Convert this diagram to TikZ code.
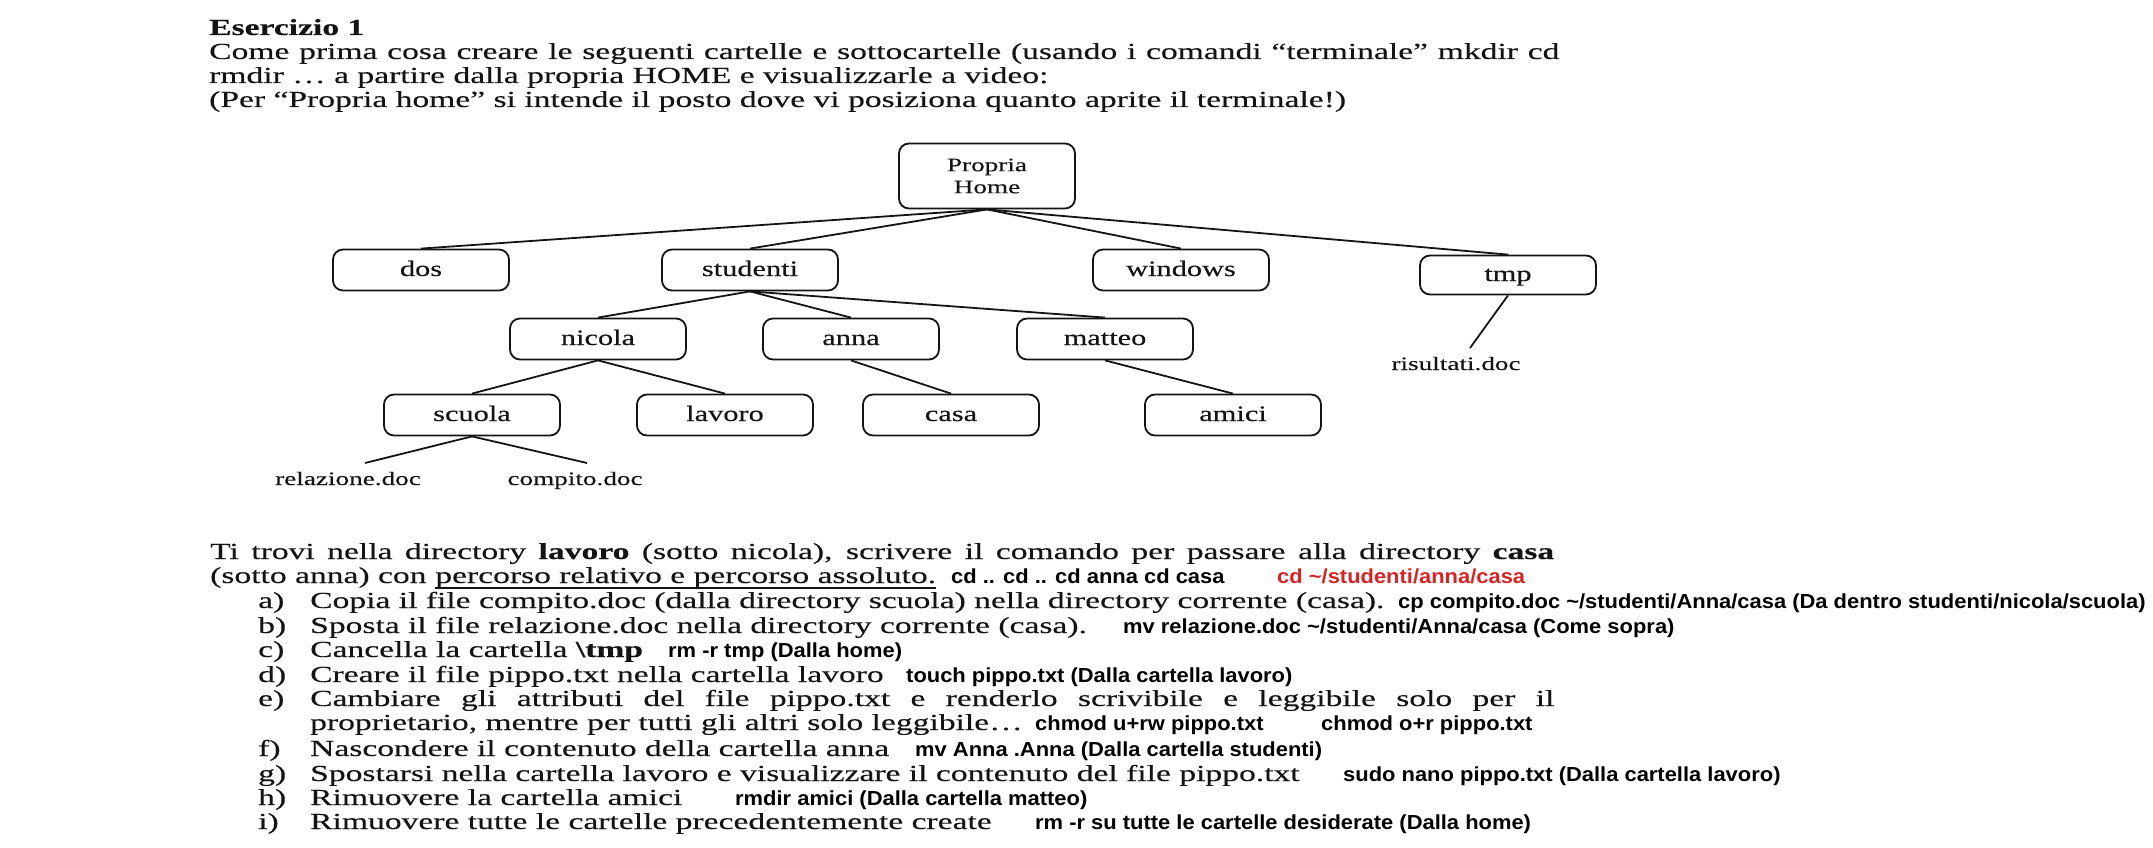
\documentclass[tikz,border=0pt]{standalone}
\usepackage{fontspec}
\setmainfont{Liberation Serif}
% widened faces: body text, tree labels, bold answers
\newfontfamily\bodyfont[FakeStretch=1.46,FakeBold=0.3]{Liberation Serif}
\newfontfamily\treefont[FakeStretch=1.38,FakeBold=0.3]{Liberation Serif}
\newfontfamily\filefont[FakeStretch=1.43,FakeBold=0.3]{Liberation Serif}
\newfontfamily\ansfont[FakeStretch=1.08]{Liberation Sans}
\definecolor{ink}{RGB}{20,20,20}
\definecolor{ansred}{RGB}{214,36,36}

\begin{document}
\begin{tikzpicture}[x=1pt,y=-1pt,
  txt/.style={anchor=base west, inner sep=0pt, text=ink,
    font=\bodyfont\fontsize{23}{26}\selectfont},
  ans/.style={anchor=base west, inner sep=0pt, text=black,
    font=\ansfont\bfseries\fontsize{20.3}{23}\selectfont},
  box/.style={draw=ink, line width=1.8pt, rounded corners=10pt, inner sep=0pt,
    text=ink, minimum width=176pt, font=\treefont\fontsize{22}{24}\selectfont},
  folder/.style={box, minimum height=41pt, text height=15pt, text depth=3pt},
  fname/.style={anchor=base, inner sep=0pt, text=ink,
    font=\filefont\fontsize{19}{22}\selectfont},
  link/.style={draw=ink, line width=1.8pt},
]
\path[use as bounding box] (0,0) rectangle (2153,848);

% ---------- heading ----------
\node[txt, font=\bodyfont\bfseries\fontsize{23}{26}\selectfont] (title) at (209,35) {Esercizio 1};
\node[txt] (p1a) at (209,59) {\makebox[1350pt][s]{Come prima cosa creare le seguenti cartelle e sottocartelle (usando i comandi “terminale” mkdir cd}};
\node[txt] (p1b) at (209,83) {rmdir … a partire dalla propria HOME e visualizzarle a video:};
\node[txt] (p1c) at (209,107) {(Per “Propria home” si intende il posto dove vi posiziona quanto aprite il terminale!)};

% ---------- directory tree ----------
\node[box, minimum height=65pt, align=center, font=\filefont\fontsize{19}{22}\selectfont] (home) at (987,176) {Propria\\Home};

\node[folder] (dos)      at (421,270)  {dos};
\node[folder] (studenti) at (750,270)  {studenti};
\node[folder] (windows)  at (1181,270) {windows};
\node[folder, minimum height=39pt] (tmp) at (1508,275) {tmp};

\node[folder] (nicola) at (598,339)  {nicola};
\node[folder] (anna)   at (851,339)  {anna};
\node[folder] (matteo) at (1105,339) {matteo};

\node[folder] (scuola) at (472,415)  {scuola};
\node[folder] (lavoro) at (725,415)  {lavoro};
\node[folder] (casa)   at (951,415)  {casa};
\node[folder] (amici)  at (1233,415) {amici};

\node[fname] (relazione) at (348,485)  {relazione.doc};
\node[fname] (compito)   at (575,485)  {compito.doc};
\node[fname] (risultati) at (1456,370) {risultati.doc};

\coordinate (relEnd)  at (365,463);
\coordinate (compEnd) at (587,463);
\coordinate (risEnd)  at (1470,348);

\draw[link] (home.south) -- (dos.north);
\draw[link] (home.south) -- (studenti.north);
\draw[link] (home.south) -- (windows.north);
\draw[link] (home.south) -- (tmp.north);
\draw[link] (studenti.south) -- (nicola.north);
\draw[link] (studenti.south) -- (anna.north);
\draw[link] (studenti.south) -- (matteo.north);
\draw[link] (nicola.south) -- (scuola.north);
\draw[link] (nicola.south) -- (lavoro.north);
\draw[link] (anna.south) -- (casa.north);
\draw[link] (matteo.south) -- (amici.north);
\draw[link] (scuola.south) -- (relEnd);
\draw[link] (scuola.south) -- (compEnd);
\draw[link] (tmp.south) -- (risEnd);

% ---------- questions ----------
\node[txt] (q1) at (210,559) {\makebox[1344pt][s]{Ti trovi nella directory \textbf{lavoro} (sotto nicola), scrivere il comando per passare alla directory \textbf{casa}}};
\node[txt] (q2) at (210,583) {(sotto anna) con};
\node[txt] (q2u) at ([xshift=8.4pt]q2.base east) {percorso relativo e percorso assoluto.};
\draw[ink, line width=1.6pt] ([yshift=-5pt]q2u.base west) -- ([yshift=-5pt]q2u.base east);

\node[txt] (la) at (258,608) {a)};
\node[txt] (ta) at (310,608) {Copia il file compito.doc (dalla directory scuola) nella directory corrente (casa).};
\node[txt] (lb) at (258,633) {b)};
\node[txt] (tb) at (310,633) {Sposta il file relazione.doc nella directory corrente (casa).};
\node[txt] (lc) at (258,657) {c)};
\node[txt] (tc) at (310,657) {Cancella la cartella \textbf{\textbackslash tmp}};
\node[txt] (ld) at (258,682) {d)};
\node[txt] (td) at (310,682) {Creare il file pippo.txt nella cartella lavoro};
\node[txt] (le) at (258,706) {e)};
\node[txt] (te) at (310,706) {\makebox[1244pt][s]{Cambiare gli attributi del file pippo.txt e renderlo scrivibile e leggibile solo per il}};
\node[txt] (te2) at (310,730) {proprietario, mentre per tutti gli altri solo leggibile…};
\node[txt] (lf) at (258,756) {f)};
\node[txt] (tf) at (310,756) {Nascondere il contenuto della cartella anna};
\node[txt] (lg) at (258,781) {g)};
\node[txt] (tg) at (310,781) {Spostarsi nella cartella lavoro e visualizzare il contenuto del file pippo.txt};
\node[txt] (lh) at (258,805) {h)};
\node[txt] (th) at (310,805) {Rimuovere la cartella amici};
\node[txt] (li) at (258,829) {i)};
\node[txt] (ti) at (310,829) {Rimuovere tutte le cartelle precedentemente create};

% ---------- answers ----------
\node[ans] (ansrel) at (951,583) {cd .. cd .. cd anna cd casa};
\node[ans, text=ansred] (ansabs) at (1277,583) {cd \textasciitilde/studenti/anna/casa};
\node[ans] (ansa) at (1398,608) {cp compito.doc \textasciitilde/studenti/Anna/casa (Da dentro studenti/nicola/scuola)};
\node[ans] (ansb) at (1123,633) {mv relazione.doc \textasciitilde/studenti/Anna/casa (Come sopra)};
\node[ans] (ansc) at (668,657) {rm -r tmp (Dalla home)};
\node[ans] (ansd) at (906,682) {touch pippo.txt (Dalla cartella lavoro)};
\node[ans] (anse1) at (1035,730) {chmod u+rw pippo.txt};
\node[ans] (anse2) at (1321,730) {chmod o+r pippo.txt};
\node[ans] (ansf) at (915,756) {mv Anna .Anna (Dalla cartella studenti)};
\node[ans] (ansg) at (1343,781) {sudo nano pippo.txt (Dalla cartella lavoro)};
\node[ans] (ansh) at (735,805) {rmdir amici (Dalla cartella matteo)};
\node[ans] (ansi) at (1035,829) {rm -r su tutte le cartelle desiderate (Dalla home)};
\end{tikzpicture}
\end{document}
